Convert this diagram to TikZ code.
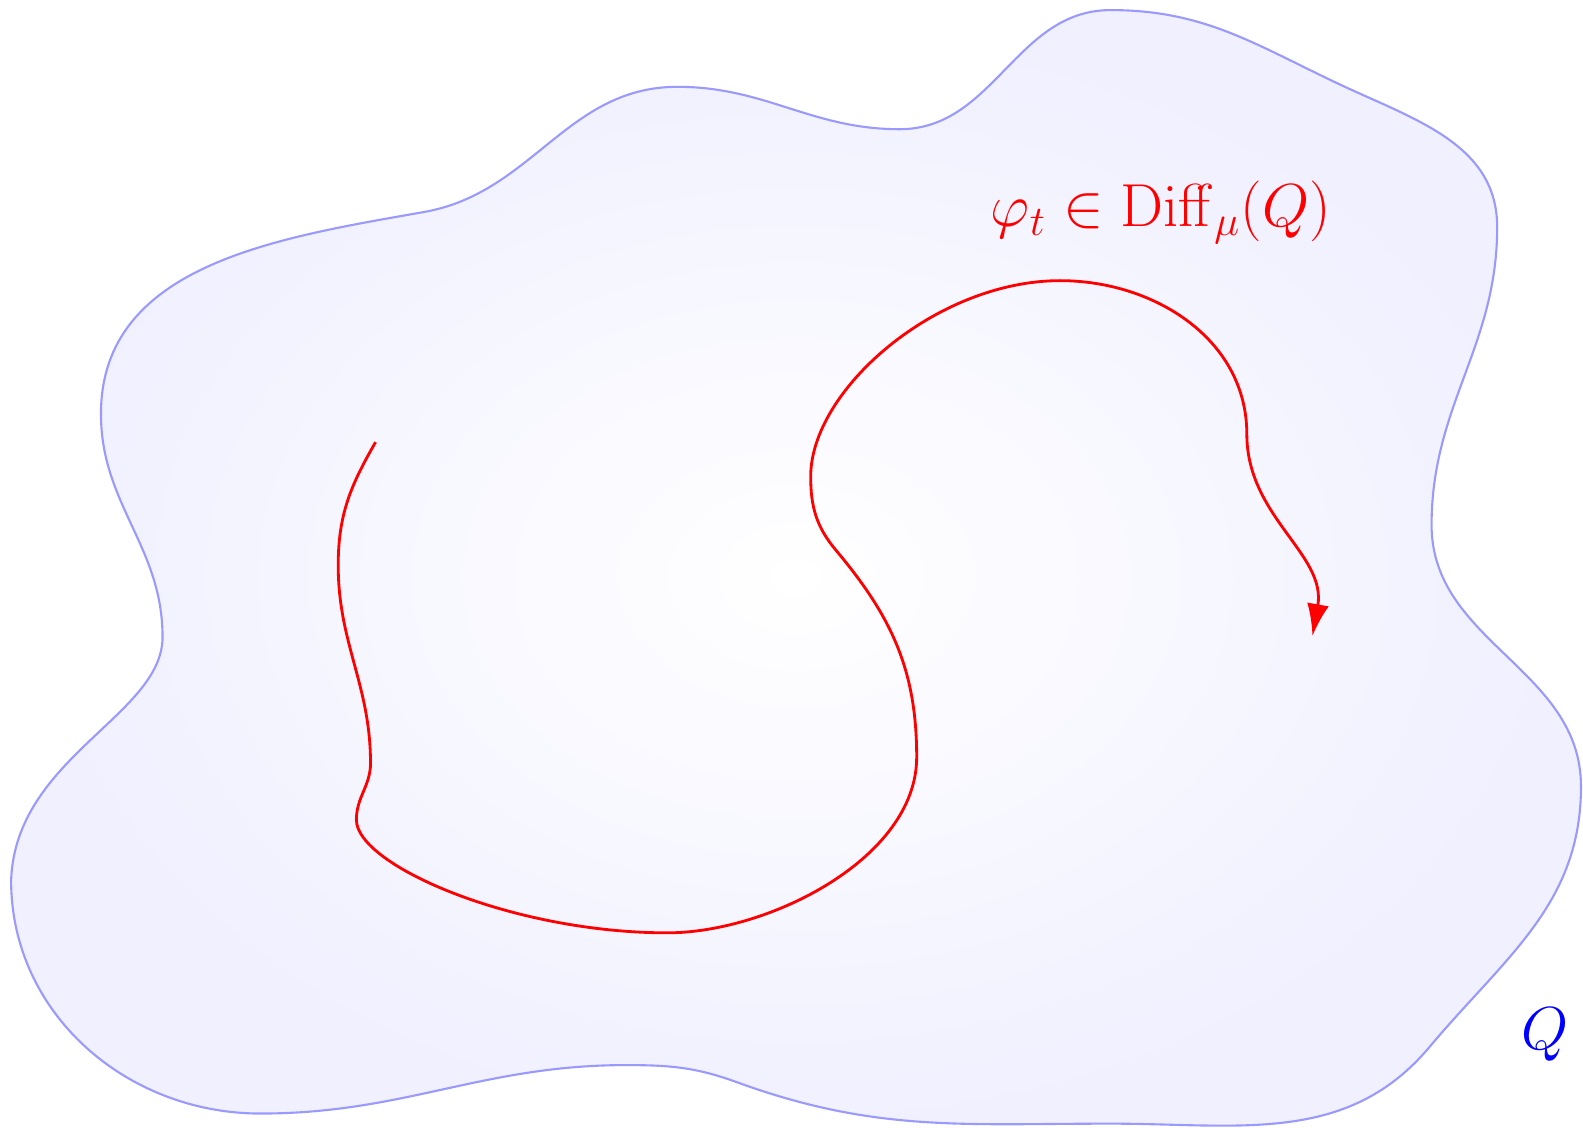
\documentclass[tikz,border=0pt]{standalone}
\usetikzlibrary{arrows.meta}
\begin{document}
\begin{tikzpicture}[
        x=1.0096cm, y=1.0096cm,
        region/.style={draw=blue!40, semithick, inner color=white, outer color=blue!6},
        flow/.style={draw=red, thick, -{Latex[length=3.2mm, width=2.2mm]}},
        flowtext/.style={text=red, font=\fontsize{18.6}{22}\selectfont},
        regiontext/.style={text=blue, font=\fontsize{18.2}{22}\selectfont}
    ]
        \useasboundingbox (0,0) rectangle (15.68,11.17);

        % Region Q
        \shade[region] (0.11,2.45)
            to[out=88,in=-90,out looseness=1.1,in looseness=0.7] (1.61,4.86)
            to[out=90,in=-90] (1.00,7.07)
            to[out=90,in=190] (4.20,9.07)
            to[out=10,in=180] (6.71,10.31)
            to[out=0,in=180] (8.91,9.89)
            to[out=0,in=180] (11.00,11.07)
            to[out=0,in=155] (13.30,10.32)
            to[out=-25,in=90] (14.83,8.92)
            to[out=-90,in=90] (14.18,5.97)
            to[out=-90,in=90] (15.66,3.38)
            to[out=-90,in=50] (14.16,0.80)
            to[out=-130,in=0] (11.00,0.04)
            to[out=180,in=-20] (7.30,0.45)
            to[out=160,in=0] (6.20,0.62)
            to[out=180,in=0] (2.58,0.14)
            to[out=180,in=-90] cycle;

        % Flow
        \draw[flow] (3.72,6.79)
            to[out=-120,in=90] (3.35,5.57)
            to[out=-90,in=90] (3.67,3.61)
            to[out=-90,in=90] (3.53,3.05)
            to[out=-90,in=180,out looseness=0.35,in looseness=1.2] (6.61,1.93)
            to[out=0,in=-90,looseness=0.85] (9.08,3.67)
            to[out=90,in=-50] (8.28,5.72)
            to[out=130,in=-90] (8.03,6.45)
            to[out=90,in=180,out looseness=0.7] (10.50,8.39)
            to[out=0,in=90] (12.35,6.87)
            to[out=-90,in=80] (13.00,4.87);

        % Labels
        \node[flowtext] (flowlabel) at (11.50,9.07) {$\varphi_t \in \mathrm{Diff}_\mu(Q)$};
        \node[regiontext] (regionlabel) at (15.30,0.92) {$Q$};
    \end{tikzpicture}
\end{document}
